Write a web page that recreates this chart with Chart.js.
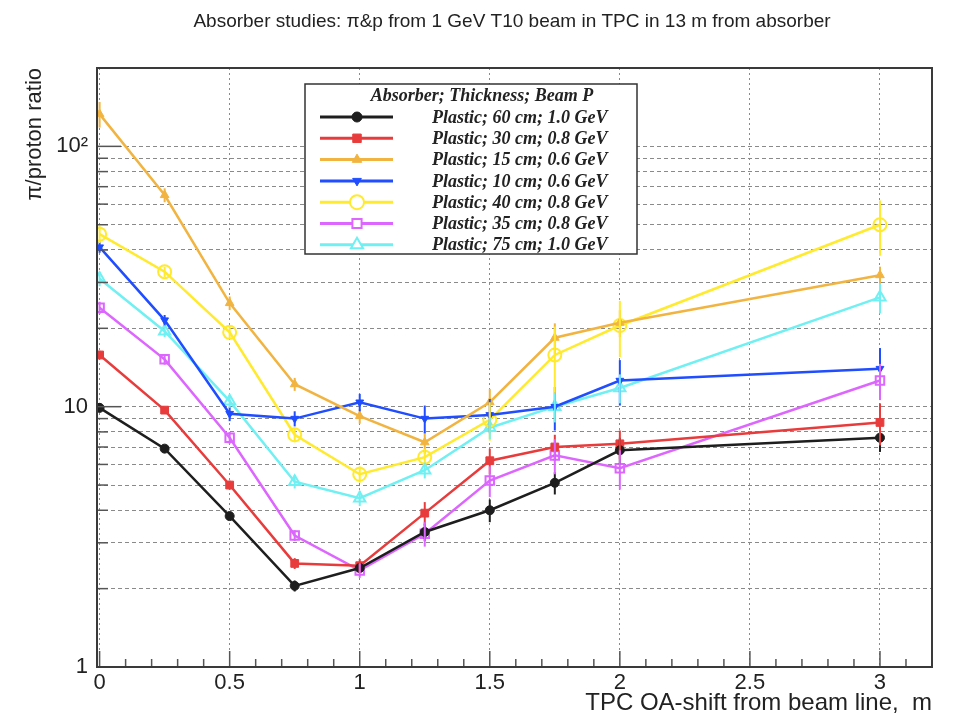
<!DOCTYPE html>
<html>
<head>
<meta charset="utf-8">
<script src="https://cdn.jsdelivr.net/npm/chart.js@4/dist/chart.umd.min.js"></script>
<style>
  html, body { margin: 0; padding: 0; background: #fff; }
  #wrap { width: 954px; height: 720px; }
</style>
</head>
<body>
<div id="wrap"><canvas id="chart" width="954" height="720"></canvas></div>
<script>
// OA-shift positions (m)
var shifts = [0, 0.25, 0.5, 0.75, 1, 1.25, 1.5, 1.75, 2, 3];

// pi/proton ratio per absorber setting
var plastic60 = [9.9, 6.9, 3.8, 2.05, 2.4, 3.3, 4.0, 5.1, 6.8, 7.6];
var plastic30 = [15.8, 9.7, 5.0, 2.5, 2.45, 3.9, 6.2, 7.0, 7.2, 8.7];
var plastic15 = [133, 65, 25, 12.2, 9.2, 7.3, 10.4, 18.4, 21, 32];
var plastic10 = [41, 21.5, 9.4, 9.0, 10.4, 9.0, 9.3, 10.0, 12.6, 14.0];
var plastic40 = [46, 33, 19.3, 7.8, 5.5, 6.4, 8.9, 15.8, 20.5, 50];
var plastic35 = [24, 15.2, 7.6, 3.2, 2.35, 3.25, 5.2, 6.5, 5.8, 12.6];
var plastic75 = [31, 19.5, 10.5, 5.15, 4.45, 5.7, 8.3, 10, 11.8, 26.3];

// errors (+/-)
var err60 = [0.4, 0.2, 0.1, 0.1, 0.1, 0.25, 0.4, 0.5, 0.8, 0.9];
var err30 = [0.6, 0.3, 0.2, 0.12, 0.15, 0.4, 0.7, 0.8, 0.9, 1.6];
var err15 = [15, 4, 1.5, 0.7, 0.6, 0.7, 1.3, 2.5, 2.5, 2.5];
var err10 = [2, 1, 0.6, 0.6, 0.8, 1.1, 1.4, 1.9, 2.5, 2.8];
var err40 = [3.5, 1.5, 1, 0.5, 0.4, 0.5, 1.5, 4.5, 5, 12];
var err35 = [1.3, 0.7, 0.4, 0.15, 0.15, 0.35, 0.7, 1.0, 1.0, 2.0];
var err75 = [2.0, 1.0, 0.6, 0.3, 0.3, 0.4, 0.8, 1.3, 1.5, 3.5];

var legendLabels = [
  'Plastic; 60 cm; 1.0 GeV',
  'Plastic; 30 cm; 0.8 GeV',
  'Plastic; 15 cm; 0.6 GeV',
  'Plastic; 10 cm; 0.6 GeV',
  'Plastic; 40 cm; 0.8 GeV',
  'Plastic; 35 cm; 0.8 GeV',
  'Plastic; 75 cm; 1.0 GeV'
];
var legendHeader = 'Absorber; Thickness; Beam P';
var titleText = 'Absorber studies: π&p from 1 GeV T10 beam in TPC in 13 m from absorber';
var xTickValues = [0, 0.5, 1, 1.5, 2, 2.5, 3];
var yTickValues = [1, 2, 3, 4, 5, 6, 7, 8, 9, 10, 20, 30, 40, 50, 60, 70, 80, 90, 100, 200];

function pts(arr) {
  var out = [];
  for (var i = 0; i < shifts.length; i++) out.push({ x: shifts[i], y: arr[i] });
  return out;
}

function series(label, values, errs, color, style, radius, open, rot) {
  return {
    label: label,
    data: pts(values),
    errs: errs,
    showLine: true,
    borderColor: color,
    backgroundColor: color,
    borderWidth: 2.5,
    pointStyle: style,
    pointRadius: radius,
    pointRotation: rot || 0,
    pointBackgroundColor: open ? 'rgba(255,255,255,0)' : color,
    pointBorderColor: color,
    pointBorderWidth: open ? 2 : 1,
    tension: 0
  };
}

var datasets = [
  series(legendLabels[0], plastic60, err60, '#1e1e1e', 'circle', 4.5, false),
  series(legendLabels[1], plastic30, err30, '#e83c3c', 'rect', 5.5, false),
  series(legendLabels[2], plastic15, err15, '#f2b441', 'triangle', 5, false),
  series(legendLabels[3], plastic10, err10, '#1f4dff', 'triangle', 4.5, false, 180),
  series(legendLabels[4], plastic40, err40, '#ffea2e', 'circle', 6.5, true),
  series(legendLabels[5], plastic35, err35, '#dd66ff', 'rect', 6, true),
  series(legendLabels[6], plastic75, err75, '#70f0f2', 'triangle', 6.5, true)
];

// error bars, ROOT style ticks, frame, title and legend box
var rootLook = {
  id: 'rootLook',
  afterDatasetsDraw: function (chart) {
    var ctx = chart.ctx;
    var xs = chart.scales.x, ys = chart.scales.y;
    ctx.save();
    chart.data.datasets.forEach(function (ds) {
      ctx.strokeStyle = ds.borderColor;
      ctx.lineWidth = 2;
      ds.data.forEach(function (p, i) {
        var e = ds.errs[i];
        var px = xs.getPixelForValue(p.x);
        var top = ys.getPixelForValue(p.y + e);
        var bot = ys.getPixelForValue(Math.max(p.y - e, 1));
        ctx.beginPath();
        ctx.moveTo(px, top);
        ctx.lineTo(px, bot);
        ctx.stroke();
      });
    });
    ctx.restore();
  },
  afterDraw: function (chart) {
    var ctx = chart.ctx;
    var a = chart.chartArea;
    var xs = chart.scales.x, ys = chart.scales.y;
    ctx.save();
    // title
    ctx.fillStyle = '#222';
    ctx.font = '19px "Liberation Sans", Arial, sans-serif';
    ctx.textAlign = 'center';
    ctx.textBaseline = 'middle';
    ctx.fillText(titleText, 512, 22);

    // ticks inside frame
    ctx.strokeStyle = '#555';
    ctx.lineWidth = 1.5;
    yTickValues.forEach(function (v) {
      var py = ys.getPixelForValue(v);
      var major = (v === 1 || v === 10 || v === 100);
      ctx.beginPath();
      ctx.moveTo(a.left, py);
      ctx.lineTo(a.left + (major ? 24 : 11), py);
      ctx.stroke();
    });
    for (var k = 0; k <= 32; k++) {
      var px = xs.getPixelForValue(k / 10);
      var major = (k % 5 === 0);
      ctx.beginPath();
      ctx.moveTo(px, a.bottom);
      ctx.lineTo(px, a.bottom - (major ? 16 : 8));
      ctx.stroke();
    }
    // frame
    ctx.strokeStyle = '#3a3a3a';
    ctx.lineWidth = 2;
    ctx.strokeRect(a.left, a.top, a.right - a.left, a.bottom - a.top);

    // legend
    var lx = 305, ly = 84, lw = 332, lh = 170;
    ctx.fillStyle = '#fff';
    ctx.fillRect(lx, ly, lw, lh);
    ctx.strokeStyle = '#333';
    ctx.lineWidth = 1.5;
    ctx.strokeRect(lx, ly, lw, lh);
    ctx.fillStyle = '#222';
    ctx.font = 'italic bold 18px "Liberation Serif"';
    ctx.textAlign = 'center';
    ctx.fillText(legendHeader, 482, 96);
    ctx.textAlign = 'left';
    chart.data.datasets.forEach(function (ds, i) {
      var ry = 117 + i * 21.3;
      ctx.strokeStyle = ds.borderColor;
      ctx.lineWidth = 3;
      ctx.beginPath();
      ctx.moveTo(320, ry);
      ctx.lineTo(393, ry);
      ctx.stroke();
      ctx.fillStyle = ds.pointBackgroundColor === 'rgba(255,255,255,0)' ? '#fff' : ds.pointBackgroundColor;
      ctx.strokeStyle = ds.borderColor;
      ctx.lineWidth = ds.pointBorderWidth;
      Chart.helpers.drawPoint(ctx, {
        pointStyle: ds.pointStyle,
        radius: ds.pointRadius + 0.5,
        rotation: ds.pointRotation,
        borderWidth: ds.pointBorderWidth
      }, 357, ry);
      ctx.fillStyle = '#222';
      ctx.fillText(ds.label, 432, ry + 1);
    });
    ctx.restore();
  }
};

var tickFont = { family: '"Liberation Sans", Arial, sans-serif', size: 22 };

var ctx = document.getElementById('chart').getContext('2d');
const chart = new Chart(ctx, {
  type: 'scatter',
  data: { datasets: datasets },
  plugins: [rootLook],
  options: {
    responsive: false,
    animation: false,
    layout: { padding: { left: 0, right: 22, top: 68, bottom: 0 } },
    plugins: {
      legend: { display: false },
      tooltip: { enabled: false },
      title: { display: false }
    },
    scales: {
      x: {
        type: 'linear',
        min: -0.01,
        max: 3.2,
        afterBuildTicks: function (s) { s.ticks = xTickValues.map(function (v) { return { value: v }; }); },
        afterFit: function (s) { s.height = 53; },
        border: { display: false, dash: [2, 3] },
        grid: { color: '#8a8a8a', lineWidth: 1, drawTicks: false },
        ticks: {
          color: '#222',
          padding: 3,
          maxRotation: 0,
          font: tickFont,
          callback: function (v) { return String(v); }
        },
        title: {
          display: true,
          text: 'TPC OA-shift from beam line,  m',
          align: 'end',
          color: '#222',
          font: { family: '"Liberation Sans", Arial, sans-serif', size: 24 },
          padding: { top: 0, bottom: 2 }
        }
      },
      y: {
        type: 'logarithmic',
        min: 1,
        max: 200,
        afterBuildTicks: function (s) { s.ticks = yTickValues.map(function (v) { return { value: v }; }); },
        afterFit: function (s) { s.width = 97; },
        border: { display: false, dash: [4, 3] },
        grid: { color: '#8a8a8a', lineWidth: 1, drawTicks: false },
        ticks: {
          color: '#222',
          padding: 9,
          autoSkip: false,
          font: tickFont,
          callback: function (v) {
            if (v === 1) return '1';
            if (v === 10) return '10';
            if (v === 100) return '10²';
            return '';
          }
        },
        title: {
          display: true,
          text: 'π/proton ratio',
          align: 'end',
          color: '#222',
          font: { family: '"Liberation Sans", Arial, sans-serif', size: 22 },
          padding: { top: 22, bottom: 0 }
        }
      }
    }
  }
});
</script>
</body>
</html>
